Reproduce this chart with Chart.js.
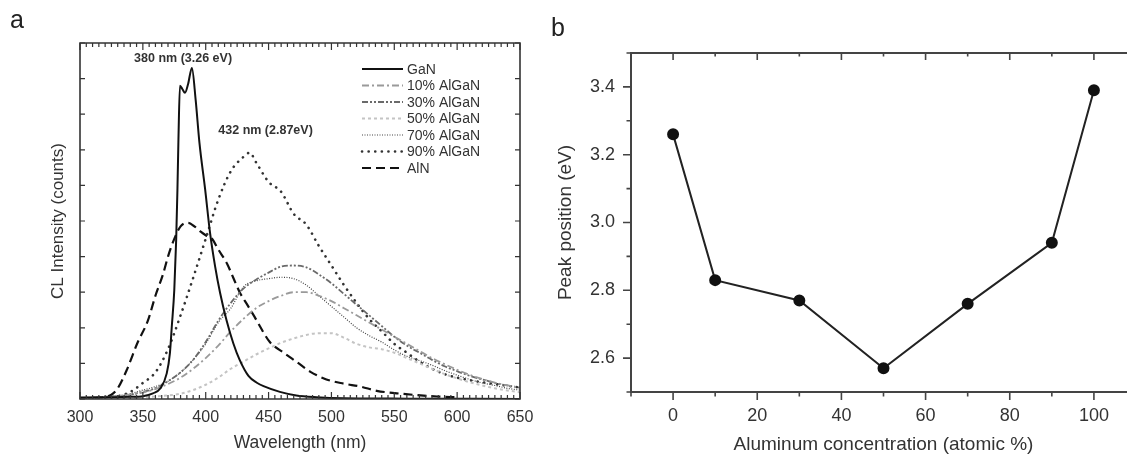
<!DOCTYPE html>
<html>
<head>
<meta charset="utf-8">
<script src="https://cdn.jsdelivr.net/npm/chart.js@4.4.0/dist/chart.umd.min.js"></script>
<style>
html, body { margin: 0; padding: 0; background: #fff; overflow: hidden; width: 1127px; height: 456px; }
#chartA { position: absolute; left: 0; top: 0; }
#chartB { position: absolute; left: 540px; top: 0; }
.panel { position: absolute; font-family: "Liberation Sans", Arial, sans-serif; font-size: 25px; color: #222; }
</style>
</head>
<body>
<canvas id="chartA" width="560" height="456"></canvas>
<canvas id="chartB" width="620" height="456"></canvas>
<div class="panel" style="left:10px;top:5px">a</div>
<div class="panel" style="left:551px;top:13px">b</div>
<script>
// panel a: CL spectra (intensity in tick units, 0..10)
const wlGrid = [300,310,320,330,340,350,360,370,380,390,400,410,420,430,440,450,460,470,480,490,
                500,510,520,530,540,550,560,570,580,590,600,610,620,630,640,650];
const al10 = [0.02,0.03,0.05,0.08,0.12,0.18,0.28,0.42,0.6,0.85,1.15,1.5,1.9,2.25,2.55,2.75,2.9,3.0,3.0,2.9,
              2.75,2.55,2.35,2.15,1.95,1.75,1.55,1.35,1.15,0.98,0.82,0.68,0.56,0.46,0.38,0.32];
const al30 = [0.02,0.03,0.05,0.08,0.12,0.2,0.3,0.5,0.75,1.1,1.6,2.2,2.7,3.1,3.35,3.55,3.72,3.75,3.7,3.5,
              3.25,2.95,2.65,2.35,2.05,1.75,1.5,1.3,1.1,0.92,0.78,0.65,0.55,0.45,0.38,0.32];
const al50 = [0.01,0.02,0.02,0.03,0.04,0.05,0.07,0.1,0.15,0.25,0.4,0.6,0.85,1.05,1.25,1.42,1.58,1.7,1.8,1.85,
              1.85,1.72,1.55,1.45,1.4,1.3,1.15,1.0,0.85,0.7,0.58,0.47,0.38,0.3,0.24,0.19];
const al70 = [0.02,0.03,0.05,0.08,0.15,0.25,0.35,0.5,0.75,1.1,1.55,2.15,2.55,3.15,3.32,3.38,3.42,3.38,3.2,2.9,
              2.6,2.3,2.0,1.78,1.6,1.38,1.2,1.08,0.95,0.8,0.67,0.55,0.45,0.38,0.3,0.25];
const wl90 = [300,310,320,330,340,350,360,370,380,390,400,410,420,430,435,440,450,460,470,480,490,
              500,510,520,530,540,550,560,570,580,590,600,610,620,630,640,650];
const al90 = [0.02,0.03,0.05,0.08,0.2,0.45,0.75,1.4,2.35,3.4,4.5,5.6,6.4,6.8,6.92,6.65,6.1,5.82,5.2,4.9,4.3,
              3.75,3.2,2.7,2.25,1.9,1.55,1.3,1.05,0.85,0.7,0.6,0.53,0.47,0.42,0.37,0.32];
const wlGaN = [300,320,340,350,358,364,369,371.5,373,375,376.5,377.5,378.3,379.5,381.5,383.5,386,389,392,395,
               399.5,403.5,407.5,411.5,416.5,422,427,434,441,446,459,472,488,510,560,650];
const ganCL = [0.04,0.05,0.06,0.08,0.16,0.3,0.72,1.28,2.03,3.06,4.47,5.87,7.28,8.8,8.7,8.6,8.85,9.3,8.4,7.2,
               5.9,4.65,3.72,2.97,2.22,1.56,1.1,0.65,0.45,0.36,0.2,0.1,0.05,0.02,0.01,0];
const wlAlN = [300,310,320,325,330,337,346,354,360,366,370,375,380,386,391,396,400,405,410,417,
               422,427,433,439,443,451,462,472,483,496,510,523,536,552,568,584,600];
const alnCL = [0.02,0.03,0.06,0.12,0.3,0.8,1.6,2.2,2.9,3.5,4.0,4.5,4.85,4.95,4.85,4.7,4.6,4.5,4.2,3.8,
               3.4,3.0,2.65,2.3,2.05,1.6,1.3,1.05,0.77,0.55,0.43,0.35,0.23,0.16,0.11,0.07,0.05];
const specLabels = ['GaN','10% AlGaN','30% AlGaN','50% AlGaN','70% AlGaN','90% AlGaN','AlN'];

// panel b: peak position vs Al content
const alConc = [0,10,30,50,70,90,100];
const peakEv = [3.26,2.83,2.77,2.57,2.76,2.94,3.39];

const FONT = '"Liberation Sans", Arial, sans-serif';
Chart.defaults.font.family = FONT;
Chart.defaults.color = '#333';

function pts(xs, ys) { return xs.map((x, i) => ({x: x, y: ys[i]})); }

// frame + tick marks drawn from the scales
const frameTicks = {
  id: 'frameTicks',
  afterDraw(chart, args, opts) {
    const ctx = chart.ctx, a = chart.chartArea;
    ctx.save();
    ctx.strokeStyle = opts.color;
    ctx.lineWidth = opts.width;
    ctx.lineCap = 'butt';
    ctx.beginPath();
    (opts.sides || []).forEach(s => {
      if (s === 'left') { ctx.moveTo(a.left, a.top); ctx.lineTo(a.left, a.bottom); }
      if (s === 'right') { ctx.moveTo(a.right, a.top); ctx.lineTo(a.right, a.bottom); }
      if (s === 'top') { ctx.moveTo(a.left - opts.width / 2, a.top); ctx.lineTo(a.right + opts.width / 2, a.top); }
      if (s === 'bottom') { ctx.moveTo(a.left - opts.width / 2, a.bottom); ctx.lineTo(a.right + opts.width / 2, a.bottom); }
    });
    ctx.stroke();
    ctx.lineWidth = opts.tickWidth;
    ctx.beginPath();
    (opts.marks || []).forEach(m => {
      const sc = chart.scales[m.scale];
      const n = Math.round((m.to - m.from) / m.step);
      for (let i = 0; i <= n; i++) {
        const p = sc.getPixelForValue(m.from + i * m.step);
        if (m.side === 'bottom') { ctx.moveTo(p, a.bottom); ctx.lineTo(p, a.bottom - m.len); }
        if (m.side === 'top') { ctx.moveTo(p, a.top); ctx.lineTo(p, a.top + m.len); }
        if (m.side === 'left') { ctx.moveTo(a.left, p); ctx.lineTo(a.left + m.len, p); }
        if (m.side === 'right') { ctx.moveTo(a.right, p); ctx.lineTo(a.right - m.len, p); }
      }
    });
    ctx.stroke();
    ctx.restore();
  }
};

// legend drawn inside the plot, styles taken from the datasets
const innerLegend = {
  id: 'innerLegend',
  afterDraw(chart, args, opts) {
    const ctx = chart.ctx;
    ctx.save();
    chart.data.datasets.forEach((ds, i) => {
      const y = opts.y + i * opts.dy;
      ctx.strokeStyle = ds.borderColor;
      ctx.lineWidth = ds.borderWidth;
      ctx.lineCap = ds.borderCapStyle || 'butt';
      ctx.setLineDash(ds.borderDash || []);
      ctx.beginPath();
      ctx.moveTo(opts.x, y);
      ctx.lineTo(opts.x + opts.len, y);
      ctx.stroke();
      ctx.setLineDash([]);
      ctx.fillStyle = '#333';
      ctx.font = opts.font;
      ctx.textBaseline = 'middle';
      ctx.fillText(ds.label, opts.x + opts.len + 4, y + 1);
    });
    ctx.restore();
  }
};

// peak annotations, anchored in data units
const peakNotes = {
  id: 'peakNotes',
  afterDraw(chart, args, opts) {
    const ctx = chart.ctx, sx = chart.scales.x, sy = chart.scales.y;
    ctx.save();
    ctx.fillStyle = '#333';
    ctx.font = opts.font;
    ctx.textAlign = 'center';
    ctx.textBaseline = 'middle';
    opts.items.forEach(t => ctx.fillText(t.text, sx.getPixelForValue(t.x), sy.getPixelForValue(t.y)));
    ctx.restore();
  }
};

const lineBase = { pointRadius: 0, fill: false, cubicInterpolationMode: 'monotone' };

const chartA = new Chart(document.getElementById('chartA'), {
  type: 'line',
  data: {
    datasets: [
      Object.assign({ label: specLabels[0], data: pts(wlGaN, ganCL), borderColor: '#111', borderWidth: 2, borderDash: [] }, lineBase),
      Object.assign({ label: specLabels[1], data: pts(wlGrid, al10), borderColor: '#9a9a9a', borderWidth: 1.8, borderDash: [7, 3, 2, 3] }, lineBase),
      Object.assign({ label: specLabels[2], data: pts(wlGrid, al30), borderColor: '#6a6a6a', borderWidth: 1.8, borderDash: [6, 2, 2, 2, 2, 2] }, lineBase),
      Object.assign({ label: specLabels[3], data: pts(wlGrid, al50), borderColor: '#c4c4c4', borderWidth: 2, borderDash: [3, 3] }, lineBase),
      Object.assign({ label: specLabels[4], data: pts(wlGrid, al70), borderColor: '#444', borderWidth: 1.2, borderDash: [1, 1.5] }, lineBase),
      Object.assign({ label: specLabels[5], data: pts(wl90, al90), borderColor: '#333', borderWidth: 2.6, borderDash: [0.1, 6.5], borderCapStyle: 'round' }, lineBase),
      Object.assign({ label: specLabels[6], data: pts(wlAlN, alnCL), borderColor: '#111', borderWidth: 2.2, borderDash: [9, 5] }, lineBase)
    ]
  },
  options: {
    responsive: false,
    animation: false,
    layout: { padding: { left: 48, top: 43, right: 40, bottom: 0 } },
    plugins: {
      legend: { display: false },
      tooltip: { enabled: false },
      frameTicks: {
        color: '#333', width: 1.6, tickWidth: 1.2,
        sides: ['left', 'right', 'top', 'bottom'],
        marks: [
          { scale: 'x', side: 'bottom', from: 300, to: 650, step: 5, len: 4 },
          { scale: 'x', side: 'bottom', from: 300, to: 650, step: 50, len: 7 },
          { scale: 'x', side: 'top', from: 300, to: 650, step: 5, len: 4 },
          { scale: 'x', side: 'top', from: 300, to: 650, step: 50, len: 7 },
          { scale: 'y', side: 'left', from: 0, to: 10, step: 1, len: 5 },
          { scale: 'y', side: 'right', from: 0, to: 10, step: 1, len: 5 }
        ]
      },
      innerLegend: { x: 362, y: 69, dy: 16.5, len: 41, font: '14px ' + FONT },
      peakNotes: {
        font: 'bold 12.5px ' + FONT,
        items: [
          { text: '380 nm (3.26 eV)', x: 382, y: 9.55 },
          { text: '432 nm (2.87eV)', x: 447.6, y: 7.53 }
        ]
      }
    },
    scales: {
      x: {
        type: 'linear', min: 300, max: 650,
        grid: { display: false, drawTicks: false },
        border: { display: false },
        ticks: { stepSize: 50, padding: 9, color: '#333', font: { size: 16 }, maxRotation: 0, autoSkip: false },
        title: { display: true, text: 'Wavelength (nm)', color: '#333', font: { size: 17.5 }, padding: { top: 0, bottom: 2.5 } },
        afterFit(s) { s.height = 57; }
      },
      y: {
        min: 0, max: 10,
        grid: { display: false, drawTicks: false },
        border: { display: false },
        ticks: { display: false },
        title: { display: true, text: 'CL Intensity (counts)', color: '#333', font: { size: 17 }, padding: { top: 0, bottom: 0 } },
        afterFit(s) { s.width = 32; }
      }
    }
  },
  plugins: [frameTicks, innerLegend, peakNotes]
});

const chartB = new Chart(document.getElementById('chartB'), {
  type: 'line',
  data: {
    datasets: [{
      label: 'Peak position',
      data: pts(alConc, peakEv),
      borderColor: '#222',
      borderWidth: 2,
      pointRadius: 5,
      pointBackgroundColor: '#111',
      pointBorderColor: '#111',
      tension: 0
    }]
  },
  options: {
    responsive: false,
    animation: false,
    layout: { padding: { left: 14, top: 53, right: 24, bottom: 0 } },
    plugins: {
      legend: { display: false },
      tooltip: { enabled: false },
      frameTicks: {
        color: '#444', width: 2, tickWidth: 1.6,
        sides: ['left', 'top', 'bottom'],
        marks: [
          { scale: 'x', side: 'bottom', from: 0, to: 100, step: 20, len: -8 },
          { scale: 'x', side: 'bottom', from: -10, to: 110, step: 20, len: -4.5 },
          { scale: 'x', side: 'top', from: 0, to: 100, step: 20, len: 7 },
          { scale: 'x', side: 'top', from: 10, to: 110, step: 20, len: 3.5 },
          { scale: 'y', side: 'left', from: 2.6, to: 3.4, step: 0.2, len: -8 },
          { scale: 'y', side: 'left', from: 2.5, to: 3.5, step: 0.2, len: -4.5 }
        ]
      }
    },
    scales: {
      x: {
        type: 'linear', min: -10, max: 110,
        grid: { display: false, drawTicks: false },
        border: { display: false },
        ticks: {
          stepSize: 10, padding: 13, color: '#333', font: { size: 18 }, maxRotation: 0, autoSkip: false,
          callback: v => (Math.round(v) % 20 === 0 && v >= 0 && v <= 100) ? String(Math.round(v)) : ''
        },
        title: { display: true, text: 'Aluminum concentration (atomic %)', color: '#333', font: { size: 19 }, padding: { top: 0, bottom: 0 } },
        afterFit(s) { s.height = 64; }
      },
      y: {
        min: 2.5, max: 3.5,
        grid: { display: false, drawTicks: false },
        border: { display: false },
        ticks: {
          stepSize: 0.1, padding: 16, color: '#333', font: { size: 18 }, autoSkip: false,
          callback: v => (Math.round(v * 10) % 2 === 0) ? v.toFixed(1) : ''
        },
        title: { display: true, text: 'Peak position (eV)', color: '#333', font: { size: 19 }, padding: { top: 0, bottom: 0 } },
        afterFit(s) { s.width = 77; }
      }
    }
  },
  plugins: [frameTicks]
});
</script>
</body>
</html>
